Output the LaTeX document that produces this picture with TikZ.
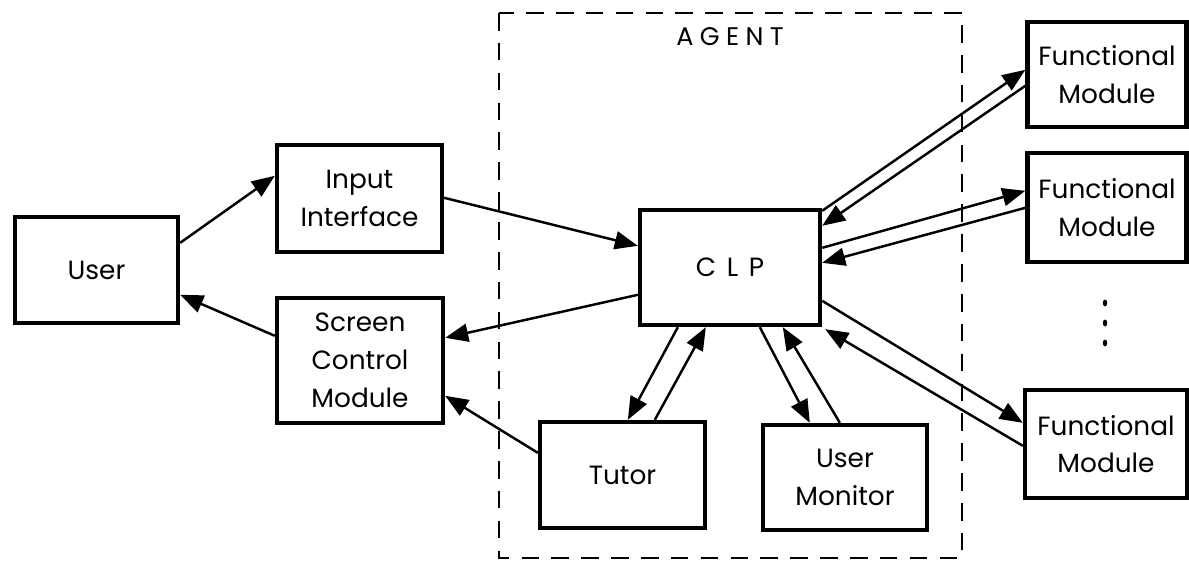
\documentclass[tikz,border=0pt]{standalone}
\usepackage{fontspec}
\setmainfont{Poppins}
\usetikzlibrary{arrows.meta,calc}

\begin{document}
\begin{tikzpicture}[x=0.02cm,y=-0.02cm,
		box/.style={draw, line width=2.5pt, align=center, inner sep=0pt,
			font=\fontsize{15}{21.5}\selectfont},
		conn/.style={line width=1.4pt, -{Triangle[length=0.46cm,width=0.36cm]}},
		agentline/.style={line width=1.2pt, dash pattern=on 10pt off 7pt}]
		\useasboundingbox (0,0) rectangle (1189,567);
		\draw[agentline] (499,13) rectangle (962,558);
		\node[font=\fontsize{14.5}{17}\selectfont\addfontfeatures{LetterSpace=25}] (agentlabel) at (730,37) {AGENT};
		\node[box, minimum width=3.26cm, minimum height=2.12cm] (user) at (96.5,270) {User};
		\node[box, minimum width=3.3cm, minimum height=2.14cm] (input) at (359.5,198.5) {Input\\Interface};
		\node[box, minimum width=3.32cm, minimum height=2.5cm] (screen) at (360,360.5) {Screen\\Control\\Module};
		\node[box, minimum width=3.6cm, minimum height=2.3cm,
			font=\fontsize{15}{18}\selectfont\addfontfeatures{LetterSpace=40}] (clp) at (730,267.5) {CLP};
		\node[box, minimum width=3.3cm, minimum height=2.12cm] (tutor) at (622.5,475) {Tutor};
		\node[box, minimum width=3.28cm, minimum height=2.1cm] (monitor) at (845,477.5) {User\\Monitor};
		\node[box, minimum width=3.18cm, minimum height=2.1cm] (fm1) at (1107,74.5) {Functional\\Module};
		\node[box, minimum width=3.18cm, minimum height=2.18cm] (fm2) at (1107,207.5) {Functional\\Module};
		\node[box, minimum width=3.24cm, minimum height=2.16cm] (fm3) at (1106,444) {Functional\\Module};
		\foreach \y in {303,323,343}
			\fill (1105,\y) ellipse (2.2 and 3.5);
		\draw[conn] ($(user.north east)+(0,28)$) -- ($(input.north west)+(0,33)$);
		\draw[conn] ($(screen.north west)+(0,40)$) -- ($(user.north east)+(0,80)$);
		\draw[conn] ($(input.north east)+(0,55)$) -- ($(clp.north west)+(0,38)$);
		\draw[conn] ($(clp.north west)+(0,87)$) -- ($(screen.north east)+(0,42)$);
		\draw[conn] ($(tutor.north west)+(0,33)$) -- ($(screen.north east)+(0,100)$);
		\draw[conn] ($(clp.south west)+(40,0)$) -- ($(tutor.north west)+(90,0)$);
		\draw[conn] ($(tutor.north west)+(117,0)$) -- ($(clp.south west)+(68,0)$);
		\draw[conn] ($(clp.south west)+(122,0)$) -- ($(monitor.north west)+(49,0)$);
		\draw[conn] ($(monitor.north west)+(79,0)$) -- ($(clp.south west)+(145,0)$);
		\draw[conn] ($(clp.north east)+(0,3)$) -- ($(fm1.north west)+(0,50)$);
		\draw[conn] ($(fm1.north west)+(0,66)$) -- ($(clp.north east)+(0,18)$);
		\draw[conn] ($(clp.north east)+(0,40)$) -- ($(fm2.north west)+(0,40)$);
		\draw[conn] ($(fm2.north west)+(0,57)$) -- ($(clp.north east)+(0,55)$);
		\draw[conn] ($(clp.north east)+(0,93)$) -- ($(fm3.north west)+(0,35)$);
		\draw[conn] ($(fm3.north west)+(0,58)$) -- ($(clp.south east)+(3,2)$);
	\end{tikzpicture}
\end{document}
